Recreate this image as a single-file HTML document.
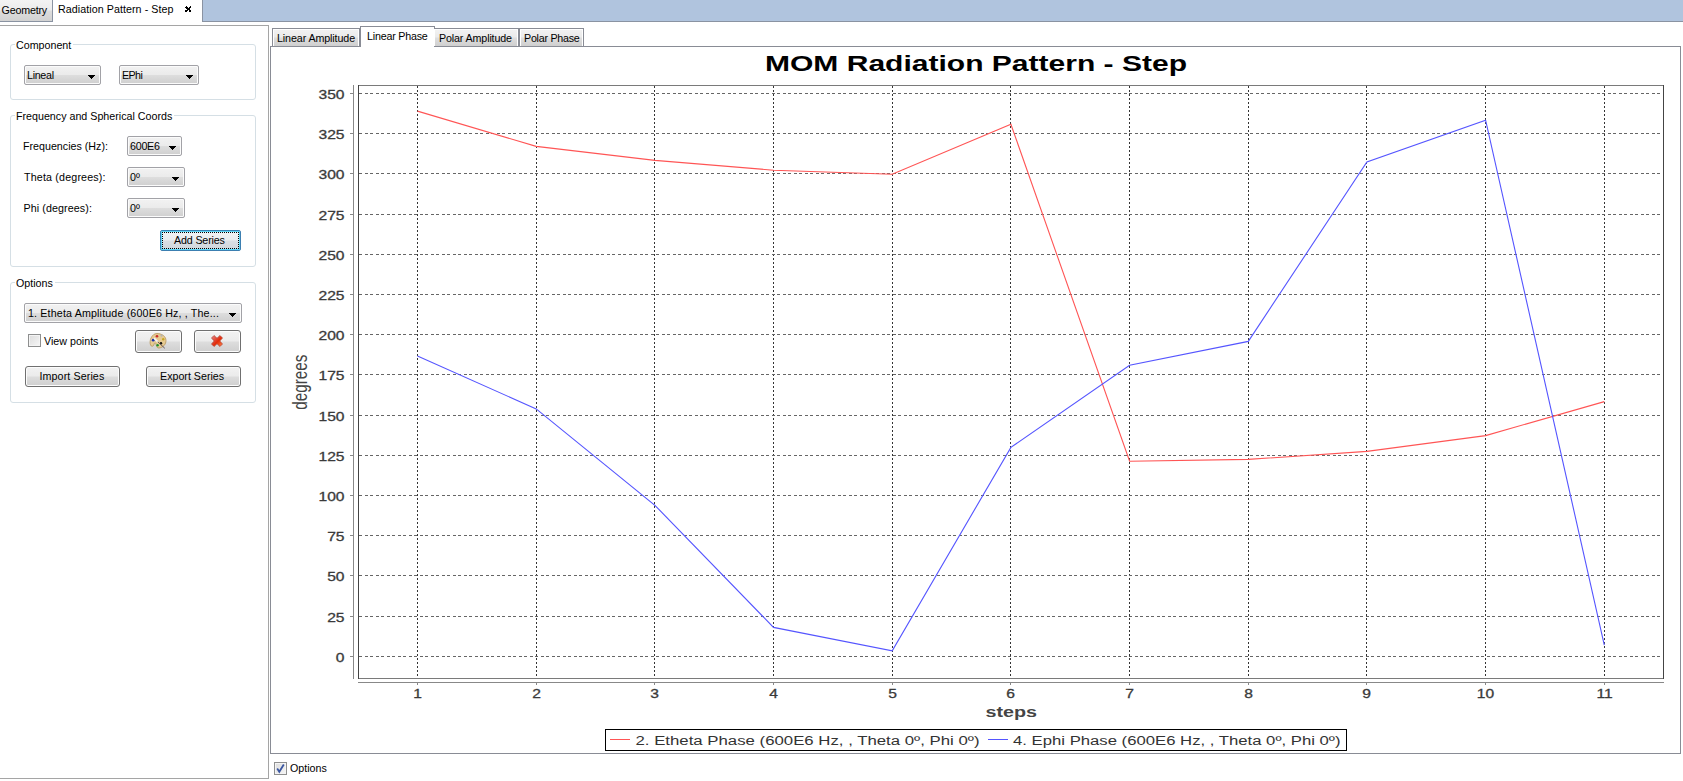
<!DOCTYPE html>
<html>
<head>
<meta charset="utf-8">
<title>Radiation Pattern - Step</title>
<style>
html,body{margin:0;padding:0;width:1683px;height:781px;overflow:hidden;background:#fff;position:relative;font-family:"Liberation Sans",sans-serif;font-size:10.7px;line-height:13px;color:#000}
.a{position:absolute}
.t{position:absolute;white-space:nowrap;height:13px}
.topbar{left:0;top:0;width:1683px;height:21px;background:#b0c4de;border-bottom:1px solid #8a93a2}
.tabg{left:0;top:0;width:52px;height:21px;background:linear-gradient(#f3f3f3 0%,#ececec 45%,#dcdcdc 55%,#d2d2d2 100%);border-right:1px solid #8a93a2;border-bottom:1px solid #8a93a2}
.tabsel{left:53px;top:0;width:149px;height:22px;background:#fff;border-right:1px solid #8a93a2}
.leftpanel{left:-1px;top:25px;width:268px;height:752px;border:1px solid #a5a5a5}
.grp{position:absolute;border:1px solid #d5dfe5;border-radius:3px;left:10px;width:244px}
.gtitle{position:absolute;background:#fff;padding:0 2px 0 1px}
.combo{position:absolute;box-sizing:border-box;border:1px solid #a2a2a7;border-radius:2px;background:linear-gradient(#f2f2f2 0%,#ebebeb 48%,#dddddd 52%,#cfcfcf 100%);box-shadow:inset 0 0 0 1px #fbfbfb}
.arrow{position:absolute;width:7px;height:4px;background:#000;clip-path:polygon(0 0,7px 0,7px 1px,6px 1px,6px 2px,5px 2px,5px 3px,4px 3px,4px 4px,3px 4px,3px 3px,2px 3px,2px 2px,1px 2px,1px 1px,0 1px)}
.btn{position:absolute;box-sizing:border-box;border:1px solid #707070;border-radius:3px;background:linear-gradient(#f2f2f2 0%,#ebebeb 48%,#dddddd 52%,#cfcfcf 100%);box-shadow:inset 0 0 0 1px #fcfcfc}
.chk{position:absolute;box-sizing:border-box;width:13px;height:13px;border:1px solid #8e8f8f;background:linear-gradient(135deg,#dcdcdc,#f6f6f6);box-shadow:inset 0 0 0 1px #f4f4f4}
.ctab{position:absolute;box-sizing:border-box;top:28px;height:18px;border:1px solid #898c95;border-bottom:none;background:linear-gradient(#f2f2f2 0%,#ebebeb 45%,#dddddd 55%,#cfcfcf 100%);box-shadow:inset 1px 1px 0 #fff,inset -1px 0 0 #fff}
.pane{left:270px;top:46px;width:1409px;height:706px;border:1px solid #898c95}
svg.chart{position:absolute;left:0;top:0}
</style>
</head>
<body>
<!-- top tab bar -->
<div class="a topbar"></div>
<div class="a tabg"></div>
<div class="t" style="left:1.6px;top:4px;letter-spacing:-0.2px">Geometry</div>
<div class="a tabsel"></div>
<div class="t" style="left:58px;top:3px;letter-spacing:0.06px">Radiation Pattern - Step</div>
<svg class="a" style="left:185px;top:6px" width="6" height="6" viewBox="0 0 6 6" shape-rendering="crispEdges" fill="#000"><rect x="1" y="0" width="1" height="1"/><rect x="5" y="0" width="1" height="1"/><rect x="0" y="1" width="1" height="1"/><rect x="1" y="1" width="1" height="1"/><rect x="2" y="1" width="1" height="1"/><rect x="4" y="1" width="1" height="1"/><rect x="5" y="1" width="1" height="1"/><rect x="1" y="2" width="1" height="1"/><rect x="2" y="2" width="1" height="1"/><rect x="3" y="2" width="1" height="1"/><rect x="4" y="2" width="1" height="1"/><rect x="2" y="3" width="1" height="1"/><rect x="3" y="3" width="1" height="1"/><rect x="4" y="3" width="1" height="1"/><rect x="0" y="4" width="1" height="1"/><rect x="1" y="4" width="1" height="1"/><rect x="2" y="4" width="1" height="1"/><rect x="4" y="4" width="1" height="1"/><rect x="5" y="4" width="1" height="1"/><rect x="0" y="5" width="1" height="1"/><rect x="1" y="5" width="1" height="1"/><rect x="4" y="5" width="1" height="1"/><rect x="5" y="5" width="1" height="1"/></svg>

<!-- left panel -->
<div class="a leftpanel"></div>

<div class="grp" style="top:44px;height:54px"></div>
<div class="t gtitle" style="left:15px;top:39px">Component</div>
<div class="combo" style="left:24px;top:65px;width:77px;height:20px"></div>
<div class="t" style="left:27px;top:69px;letter-spacing:-0.3px">Lineal</div>
<div class="arrow" style="left:88px;top:75px"></div>
<div class="combo" style="left:119px;top:65px;width:80px;height:20px"></div>
<div class="t" style="left:122px;top:69px;letter-spacing:-0.6px">EPhi</div>
<div class="arrow" style="left:186px;top:75px"></div>

<div class="grp" style="top:115px;height:150px"></div>
<div class="t gtitle" style="left:15px;top:110px">Frequency and Spherical Coords</div>
<div class="t" style="left:23px;top:140px">Frequencies (Hz):</div>
<div class="t" style="left:24px;top:171px;letter-spacing:0.17px">Theta (degrees):</div>
<div class="t" style="left:23.5px;top:202px;letter-spacing:0.1px">Phi (degrees):</div>
<div class="combo" style="left:127px;top:136px;width:55px;height:20px"></div>
<div class="t" style="left:130px;top:140px;letter-spacing:-0.24px">600E6</div>
<div class="arrow" style="left:169px;top:146px"></div>
<div class="combo" style="left:127px;top:167px;width:58px;height:20px"></div>
<div class="t" style="left:130px;top:171px">0º</div>
<div class="arrow" style="left:172px;top:177px"></div>
<div class="combo" style="left:127px;top:198px;width:58px;height:20px"></div>
<div class="t" style="left:130px;top:202px">0º</div>
<div class="arrow" style="left:172px;top:208px"></div>
<div class="btn" style="left:160px;top:230px;width:81px;height:21px;border-color:#3c7fb1;border-radius:2px;background:linear-gradient(#f1f3f5 0%,#e9ecef 48%,#dadfe4 52%,#cfd6dc 100%);box-shadow:inset 0 0 0 1px #5fd8f8"></div>
<div class="a" style="left:162px;top:232px;width:75px;height:15px;border:1px dotted #000"></div>
<div class="t" style="left:174px;top:234px;letter-spacing:-0.15px">Add Series</div>

<div class="grp" style="top:282px;height:119px"></div>
<div class="t gtitle" style="left:15px;top:277px">Options</div>
<div class="combo" style="left:24px;top:303px;width:218px;height:20px"></div>
<div class="t" style="left:28px;top:307px;letter-spacing:0.15px">1. Etheta Amplitude (600E6 Hz, , The...</div>
<div class="arrow" style="left:229px;top:313px"></div>
<div class="chk" style="left:28px;top:334px"></div>
<div class="t" style="left:44px;top:335px">View points</div>
<div class="btn" style="left:135px;top:330px;width:47px;height:23px"></div>
<svg class="a" style="left:149px;top:332px" width="18" height="17" viewBox="0 0 18 17">
  <path d="M8 1.5 C13 1.5 17 4.5 17 8.5 C17 12 14.5 15.5 10 16 C8.5 16.2 7.6 15 7.3 13.5 L6.9 11.6 C6.6 10.6 5.6 10.6 5.3 11.6 L4.6 13.5 C4 14.6 2.1 14.5 1.5 13 C0.8 11 1 8 2 6 C3.5 3 5.5 1.5 8 1.5 Z" fill="#e6ca92" stroke="#b8955a" stroke-width="0.8"/>
  <circle cx="8" cy="4.2" r="1.3" fill="#c82828"/>
  <circle cx="12.5" cy="3.6" r="1.1" fill="#b4b4b4"/>
  <circle cx="14.2" cy="7.2" r="1.2" fill="#c8a820"/>
  <circle cx="4.2" cy="8.2" r="1.4" fill="#1a30b0"/>
  <circle cx="12" cy="11.2" r="1.2" fill="#111"/>
  <circle cx="8.6" cy="13.2" r="1.2" fill="#20902a"/>
  <path d="M5 6.2 L8.8 9.8" stroke="#f4f4f4" stroke-width="1.7"/>
  <path d="M8.8 9.8 L15.8 16.3" stroke="#6a5a60" stroke-width="1"/>
</svg>
<div class="btn" style="left:194px;top:330px;width:47px;height:23px"></div>
<svg class="a" style="left:211px;top:335px" width="12" height="12" viewBox="0 0 12 12">
  <defs><linearGradient id="rx" x1="0" y1="0" x2="1" y2="1"><stop offset="0" stop-color="#e48a8a"/><stop offset="0.45" stop-color="#e23a22"/><stop offset="0.55" stop-color="#e42c08"/><stop offset="1" stop-color="#ff8a50"/></linearGradient></defs>
  <path d="M0.5 3 L3 0.5 L6 3.2 L9 0.5 L11.5 3 L8.8 6 L11.5 9 L9 11.5 L6 8.8 L3 11.5 L0.5 9 L3.2 6 Z" fill="url(#rx)" stroke="#b04030" stroke-width="0.7" stroke-linejoin="round"/>
</svg>
<div class="btn" style="left:25px;top:366px;width:95px;height:21px"></div>
<div class="t" style="left:39.5px;top:370px;letter-spacing:0.1px">Import Series</div>
<div class="btn" style="left:146px;top:366px;width:95px;height:21px"></div>
<div class="t" style="left:160px;top:370px">Export Series</div>

<!-- right: chart tabs -->
<div class="a pane"></div>
<div class="ctab" style="left:272px;width:88px"></div>
<div class="t" style="left:277px;top:32px;letter-spacing:-0.1px">Linear Amplitude</div>
<div class="a" style="left:360px;top:26px;width:73px;height:20px;box-sizing:content-box;border:1px solid #898c95;border-bottom:none;background:#fff"></div>
<div class="t" style="left:367px;top:30px;letter-spacing:-0.2px">Linear Phase</div>
<div class="ctab" style="left:434px;width:85px;border-left:none"></div>
<div class="t" style="left:439px;top:32px;letter-spacing:-0.13px">Polar Amplitude</div>
<div class="ctab" style="left:519px;width:65px"></div>
<div class="t" style="left:524px;top:32px;letter-spacing:-0.25px">Polar Phase</div>

<svg class="chart" width="1683" height="781" viewBox="0 0 1683 781">
<text x="765" y="70.8" font-family="Liberation Sans" font-weight="bold" font-size="21.5" fill="#000" textLength="422" lengthAdjust="spacingAndGlyphs">MOM Radiation Pattern - Step</text>
<line x1="417.5" y1="86" x2="417.5" y2="679" stroke="#333" stroke-width="1" stroke-dasharray="2 2" shape-rendering="crispEdges"/>
<line x1="536.5" y1="86" x2="536.5" y2="679" stroke="#333" stroke-width="1" stroke-dasharray="2 2" shape-rendering="crispEdges"/>
<line x1="654.5" y1="86" x2="654.5" y2="679" stroke="#333" stroke-width="1" stroke-dasharray="2 2" shape-rendering="crispEdges"/>
<line x1="773.5" y1="86" x2="773.5" y2="679" stroke="#333" stroke-width="1" stroke-dasharray="2 2" shape-rendering="crispEdges"/>
<line x1="892.5" y1="86" x2="892.5" y2="679" stroke="#333" stroke-width="1" stroke-dasharray="2 2" shape-rendering="crispEdges"/>
<line x1="1010.5" y1="86" x2="1010.5" y2="679" stroke="#333" stroke-width="1" stroke-dasharray="2 2" shape-rendering="crispEdges"/>
<line x1="1129.5" y1="86" x2="1129.5" y2="679" stroke="#333" stroke-width="1" stroke-dasharray="2 2" shape-rendering="crispEdges"/>
<line x1="1248.5" y1="86" x2="1248.5" y2="679" stroke="#333" stroke-width="1" stroke-dasharray="2 2" shape-rendering="crispEdges"/>
<line x1="1366.5" y1="86" x2="1366.5" y2="679" stroke="#333" stroke-width="1" stroke-dasharray="2 2" shape-rendering="crispEdges"/>
<line x1="1485.5" y1="86" x2="1485.5" y2="679" stroke="#333" stroke-width="1" stroke-dasharray="2 2" shape-rendering="crispEdges"/>
<line x1="1604.5" y1="86" x2="1604.5" y2="679" stroke="#333" stroke-width="1" stroke-dasharray="2 2" shape-rendering="crispEdges"/>
<line x1="359" y1="656.5" x2="1663" y2="656.5" stroke="#666" stroke-width="1" stroke-dasharray="3 2.5" shape-rendering="crispEdges"/>
<line x1="359" y1="616.5" x2="1663" y2="616.5" stroke="#666" stroke-width="1" stroke-dasharray="3 2.5" shape-rendering="crispEdges"/>
<line x1="359" y1="575.5" x2="1663" y2="575.5" stroke="#666" stroke-width="1" stroke-dasharray="3 2.5" shape-rendering="crispEdges"/>
<line x1="359" y1="535.5" x2="1663" y2="535.5" stroke="#666" stroke-width="1" stroke-dasharray="3 2.5" shape-rendering="crispEdges"/>
<line x1="359" y1="495.5" x2="1663" y2="495.5" stroke="#666" stroke-width="1" stroke-dasharray="3 2.5" shape-rendering="crispEdges"/>
<line x1="359" y1="455.5" x2="1663" y2="455.5" stroke="#666" stroke-width="1" stroke-dasharray="3 2.5" shape-rendering="crispEdges"/>
<line x1="359" y1="415.5" x2="1663" y2="415.5" stroke="#666" stroke-width="1" stroke-dasharray="3 2.5" shape-rendering="crispEdges"/>
<line x1="359" y1="374.5" x2="1663" y2="374.5" stroke="#666" stroke-width="1" stroke-dasharray="3 2.5" shape-rendering="crispEdges"/>
<line x1="359" y1="334.5" x2="1663" y2="334.5" stroke="#666" stroke-width="1" stroke-dasharray="3 2.5" shape-rendering="crispEdges"/>
<line x1="359" y1="294.5" x2="1663" y2="294.5" stroke="#666" stroke-width="1" stroke-dasharray="3 2.5" shape-rendering="crispEdges"/>
<line x1="359" y1="254.5" x2="1663" y2="254.5" stroke="#666" stroke-width="1" stroke-dasharray="3 2.5" shape-rendering="crispEdges"/>
<line x1="359" y1="214.5" x2="1663" y2="214.5" stroke="#666" stroke-width="1" stroke-dasharray="3 2.5" shape-rendering="crispEdges"/>
<line x1="359" y1="173.5" x2="1663" y2="173.5" stroke="#666" stroke-width="1" stroke-dasharray="3 2.5" shape-rendering="crispEdges"/>
<line x1="359" y1="133.5" x2="1663" y2="133.5" stroke="#666" stroke-width="1" stroke-dasharray="3 2.5" shape-rendering="crispEdges"/>
<line x1="359" y1="93.5" x2="1663" y2="93.5" stroke="#666" stroke-width="1" stroke-dasharray="3 2.5" shape-rendering="crispEdges"/>
<line x1="358" y1="85.5" x2="1664" y2="85.5" stroke="#7a7a7a" stroke-width="1" shape-rendering="crispEdges"/>
<line x1="358" y1="678.5" x2="1664" y2="678.5" stroke="#7a7a7a" stroke-width="1" shape-rendering="crispEdges"/>
<line x1="358.5" y1="85" x2="358.5" y2="679" stroke="#444" stroke-width="1" shape-rendering="crispEdges"/>
<line x1="1663.5" y1="85" x2="1663.5" y2="679" stroke="#444" stroke-width="1" shape-rendering="crispEdges"/>
<line x1="353.5" y1="85" x2="353.5" y2="679" stroke="#888" stroke-width="1" shape-rendering="crispEdges"/>
<line x1="358" y1="682.5" x2="1664" y2="682.5" stroke="#888" stroke-width="1" shape-rendering="crispEdges"/>
<line x1="350" y1="656.5" x2="353" y2="656.5" stroke="#888" stroke-width="1" shape-rendering="crispEdges"/>
<text transform="translate(344.5,661.8) scale(1.25,1)" text-anchor="end" font-family="Liberation Sans" font-size="12.5" fill="#3a3a3a" stroke="#3a3a3a" stroke-width="0.3">0</text>
<line x1="350" y1="616.5" x2="353" y2="616.5" stroke="#888" stroke-width="1" shape-rendering="crispEdges"/>
<text transform="translate(344.5,621.8) scale(1.25,1)" text-anchor="end" font-family="Liberation Sans" font-size="12.5" fill="#3a3a3a" stroke="#3a3a3a" stroke-width="0.3">25</text>
<line x1="350" y1="575.5" x2="353" y2="575.5" stroke="#888" stroke-width="1" shape-rendering="crispEdges"/>
<text transform="translate(344.5,580.8) scale(1.25,1)" text-anchor="end" font-family="Liberation Sans" font-size="12.5" fill="#3a3a3a" stroke="#3a3a3a" stroke-width="0.3">50</text>
<line x1="350" y1="535.5" x2="353" y2="535.5" stroke="#888" stroke-width="1" shape-rendering="crispEdges"/>
<text transform="translate(344.5,540.8) scale(1.25,1)" text-anchor="end" font-family="Liberation Sans" font-size="12.5" fill="#3a3a3a" stroke="#3a3a3a" stroke-width="0.3">75</text>
<line x1="350" y1="495.5" x2="353" y2="495.5" stroke="#888" stroke-width="1" shape-rendering="crispEdges"/>
<text transform="translate(344.5,500.8) scale(1.25,1)" text-anchor="end" font-family="Liberation Sans" font-size="12.5" fill="#3a3a3a" stroke="#3a3a3a" stroke-width="0.3">100</text>
<line x1="350" y1="455.5" x2="353" y2="455.5" stroke="#888" stroke-width="1" shape-rendering="crispEdges"/>
<text transform="translate(344.5,460.8) scale(1.25,1)" text-anchor="end" font-family="Liberation Sans" font-size="12.5" fill="#3a3a3a" stroke="#3a3a3a" stroke-width="0.3">125</text>
<line x1="350" y1="415.5" x2="353" y2="415.5" stroke="#888" stroke-width="1" shape-rendering="crispEdges"/>
<text transform="translate(344.5,420.8) scale(1.25,1)" text-anchor="end" font-family="Liberation Sans" font-size="12.5" fill="#3a3a3a" stroke="#3a3a3a" stroke-width="0.3">150</text>
<line x1="350" y1="374.5" x2="353" y2="374.5" stroke="#888" stroke-width="1" shape-rendering="crispEdges"/>
<text transform="translate(344.5,379.8) scale(1.25,1)" text-anchor="end" font-family="Liberation Sans" font-size="12.5" fill="#3a3a3a" stroke="#3a3a3a" stroke-width="0.3">175</text>
<line x1="350" y1="334.5" x2="353" y2="334.5" stroke="#888" stroke-width="1" shape-rendering="crispEdges"/>
<text transform="translate(344.5,339.8) scale(1.25,1)" text-anchor="end" font-family="Liberation Sans" font-size="12.5" fill="#3a3a3a" stroke="#3a3a3a" stroke-width="0.3">200</text>
<line x1="350" y1="294.5" x2="353" y2="294.5" stroke="#888" stroke-width="1" shape-rendering="crispEdges"/>
<text transform="translate(344.5,299.8) scale(1.25,1)" text-anchor="end" font-family="Liberation Sans" font-size="12.5" fill="#3a3a3a" stroke="#3a3a3a" stroke-width="0.3">225</text>
<line x1="350" y1="254.5" x2="353" y2="254.5" stroke="#888" stroke-width="1" shape-rendering="crispEdges"/>
<text transform="translate(344.5,259.8) scale(1.25,1)" text-anchor="end" font-family="Liberation Sans" font-size="12.5" fill="#3a3a3a" stroke="#3a3a3a" stroke-width="0.3">250</text>
<line x1="350" y1="214.5" x2="353" y2="214.5" stroke="#888" stroke-width="1" shape-rendering="crispEdges"/>
<text transform="translate(344.5,219.8) scale(1.25,1)" text-anchor="end" font-family="Liberation Sans" font-size="12.5" fill="#3a3a3a" stroke="#3a3a3a" stroke-width="0.3">275</text>
<line x1="350" y1="173.5" x2="353" y2="173.5" stroke="#888" stroke-width="1" shape-rendering="crispEdges"/>
<text transform="translate(344.5,178.8) scale(1.25,1)" text-anchor="end" font-family="Liberation Sans" font-size="12.5" fill="#3a3a3a" stroke="#3a3a3a" stroke-width="0.3">300</text>
<line x1="350" y1="133.5" x2="353" y2="133.5" stroke="#888" stroke-width="1" shape-rendering="crispEdges"/>
<text transform="translate(344.5,138.8) scale(1.25,1)" text-anchor="end" font-family="Liberation Sans" font-size="12.5" fill="#3a3a3a" stroke="#3a3a3a" stroke-width="0.3">325</text>
<line x1="350" y1="93.5" x2="353" y2="93.5" stroke="#888" stroke-width="1" shape-rendering="crispEdges"/>
<text transform="translate(344.5,98.8) scale(1.25,1)" text-anchor="end" font-family="Liberation Sans" font-size="12.5" fill="#3a3a3a" stroke="#3a3a3a" stroke-width="0.3">350</text>
<line x1="417.5" y1="683" x2="417.5" y2="685" stroke="#888" stroke-width="1" shape-rendering="crispEdges"/>
<text transform="translate(417.5,698) scale(1.25,1)" text-anchor="middle" font-family="Liberation Sans" font-size="12.5" fill="#3a3a3a" stroke="#3a3a3a" stroke-width="0.3">1</text>
<line x1="536.5" y1="683" x2="536.5" y2="685" stroke="#888" stroke-width="1" shape-rendering="crispEdges"/>
<text transform="translate(536.5,698) scale(1.25,1)" text-anchor="middle" font-family="Liberation Sans" font-size="12.5" fill="#3a3a3a" stroke="#3a3a3a" stroke-width="0.3">2</text>
<line x1="654.5" y1="683" x2="654.5" y2="685" stroke="#888" stroke-width="1" shape-rendering="crispEdges"/>
<text transform="translate(654.5,698) scale(1.25,1)" text-anchor="middle" font-family="Liberation Sans" font-size="12.5" fill="#3a3a3a" stroke="#3a3a3a" stroke-width="0.3">3</text>
<line x1="773.5" y1="683" x2="773.5" y2="685" stroke="#888" stroke-width="1" shape-rendering="crispEdges"/>
<text transform="translate(773.5,698) scale(1.25,1)" text-anchor="middle" font-family="Liberation Sans" font-size="12.5" fill="#3a3a3a" stroke="#3a3a3a" stroke-width="0.3">4</text>
<line x1="892.5" y1="683" x2="892.5" y2="685" stroke="#888" stroke-width="1" shape-rendering="crispEdges"/>
<text transform="translate(892.5,698) scale(1.25,1)" text-anchor="middle" font-family="Liberation Sans" font-size="12.5" fill="#3a3a3a" stroke="#3a3a3a" stroke-width="0.3">5</text>
<line x1="1010.5" y1="683" x2="1010.5" y2="685" stroke="#888" stroke-width="1" shape-rendering="crispEdges"/>
<text transform="translate(1010.5,698) scale(1.25,1)" text-anchor="middle" font-family="Liberation Sans" font-size="12.5" fill="#3a3a3a" stroke="#3a3a3a" stroke-width="0.3">6</text>
<line x1="1129.5" y1="683" x2="1129.5" y2="685" stroke="#888" stroke-width="1" shape-rendering="crispEdges"/>
<text transform="translate(1129.5,698) scale(1.25,1)" text-anchor="middle" font-family="Liberation Sans" font-size="12.5" fill="#3a3a3a" stroke="#3a3a3a" stroke-width="0.3">7</text>
<line x1="1248.5" y1="683" x2="1248.5" y2="685" stroke="#888" stroke-width="1" shape-rendering="crispEdges"/>
<text transform="translate(1248.5,698) scale(1.25,1)" text-anchor="middle" font-family="Liberation Sans" font-size="12.5" fill="#3a3a3a" stroke="#3a3a3a" stroke-width="0.3">8</text>
<line x1="1366.5" y1="683" x2="1366.5" y2="685" stroke="#888" stroke-width="1" shape-rendering="crispEdges"/>
<text transform="translate(1366.5,698) scale(1.25,1)" text-anchor="middle" font-family="Liberation Sans" font-size="12.5" fill="#3a3a3a" stroke="#3a3a3a" stroke-width="0.3">9</text>
<line x1="1485.5" y1="683" x2="1485.5" y2="685" stroke="#888" stroke-width="1" shape-rendering="crispEdges"/>
<text transform="translate(1485.5,698) scale(1.25,1)" text-anchor="middle" font-family="Liberation Sans" font-size="12.5" fill="#3a3a3a" stroke="#3a3a3a" stroke-width="0.3">10</text>
<line x1="1604.5" y1="683" x2="1604.5" y2="685" stroke="#888" stroke-width="1" shape-rendering="crispEdges"/>
<text transform="translate(1604.5,698) scale(1.25,1)" text-anchor="middle" font-family="Liberation Sans" font-size="12.5" fill="#3a3a3a" stroke="#3a3a3a" stroke-width="0.3">11</text>
<text transform="translate(307,382.2) rotate(-90)" text-anchor="middle" font-family="Liberation Sans" font-size="20" fill="#444" textLength="55" lengthAdjust="spacingAndGlyphs">degrees</text>
<text x="985.5" y="716.6" font-family="Liberation Sans" font-weight="bold" font-size="14.5" fill="#444" textLength="51.5" lengthAdjust="spacingAndGlyphs">steps</text>
<polyline points="417.5,111.1 536.2,146.4 654.9,160.4 773.5,170.2 892.2,174.3 1010.9,124.3 1129.6,461.2 1248.3,459.4 1366.9,451.4 1485.6,435.6 1604.3,401.6" fill="none" stroke="#ff5555" stroke-width="1.1"/>
<polyline points="417.5,356.1 536.2,408.9 654.9,505.3 773.5,627.4 892.2,650.8 1010.9,447.4 1129.6,365.2 1248.3,341.4 1366.9,161.9 1485.6,120.2 1604.3,645.1" fill="none" stroke="#5555ff" stroke-width="1.1"/>
<rect x="605.5" y="729.5" width="741" height="21" fill="#fff" stroke="#000" stroke-width="1" shape-rendering="crispEdges"/>
<line x1="610" y1="739.5" x2="630" y2="739.5" stroke="#ff5555" stroke-width="1" shape-rendering="crispEdges"/>
<line x1="988" y1="739.5" x2="1008" y2="739.5" stroke="#5555ff" stroke-width="1" shape-rendering="crispEdges"/>
<text x="635.5" y="744.7" font-family="Liberation Sans" font-size="12" fill="#333" textLength="344" lengthAdjust="spacingAndGlyphs">2. Etheta Phase (600E6 Hz, , Theta 0º, Phi 0º)</text>
<text x="1013" y="744.7" font-family="Liberation Sans" font-size="12" fill="#333" textLength="327.5" lengthAdjust="spacingAndGlyphs">4. Ephi Phase (600E6 Hz, , Theta 0º, Phi 0º)</text>
</svg>

<!-- bottom options checkbox -->
<div class="chk" style="left:274px;top:762px"></div>
<svg class="a" style="left:275px;top:763px" width="11" height="11" viewBox="0 0 11 11"><path d="M2.2 5.6 L4.3 8.8 L8.8 1.6" fill="none" stroke="#3a56a0" stroke-width="1.8"/></svg>
<div class="t" style="left:290px;top:762px">Options</div>
</body>
</html>
